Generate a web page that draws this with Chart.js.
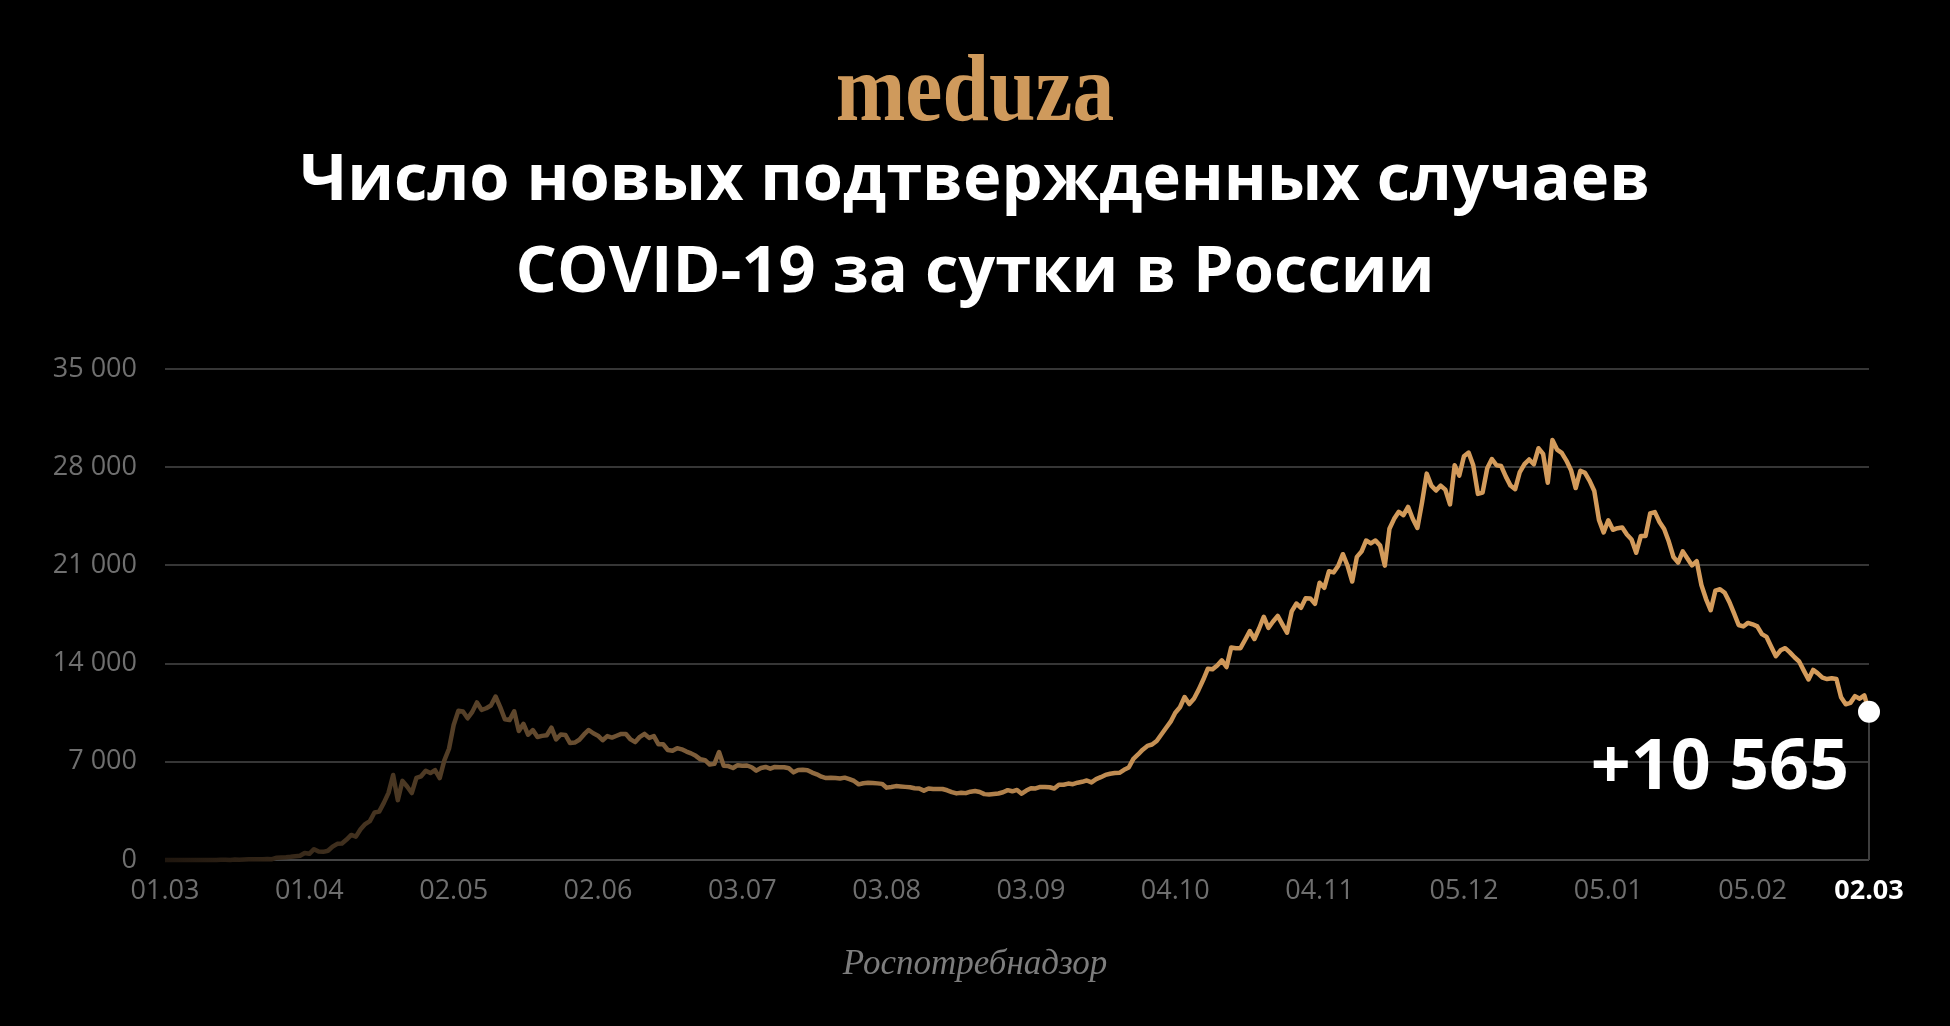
<!DOCTYPE html>
<html lang="ru">
<head>
<meta charset="utf-8">
<title>Число новых подтвержденных случаев COVID-19 за сутки в России</title>
<script src="https://cdn.jsdelivr.net/npm/chart.js@4.4.1/dist/chart.umd.min.js"></script>
<style>
  html, body { margin: 0; padding: 0; background: #000; }
  body { width: 1950px; height: 1026px; position: relative; overflow: hidden; }
  #chart { position: absolute; left: 0; top: 0; }
  .logo { position: absolute; left: 0; top: 40px; width: 1950px; text-align: center;
    font: bold 96px/1 "Liberation Serif", serif; color: #cf9a5c; }
  .logo span { display: inline-block; transform: scaleX(0.87); }
  h1 { position: absolute; left: 0; top: 129px; width: 1950px; margin: 0; text-align: center;
    font: 700 65px/92px "Open Sans", sans-serif; color: #fff; }
  .source { position: absolute; left: 0; top: 945px; width: 1950px; text-align: center;
    font: italic 35px/1 "Liberation Serif", serif; color: #7d7d7d; }
</style>
</head>
<body>
<canvas id="chart" width="1950" height="1026"></canvas>
<div class="logo"><span>meduza</span></div>
<h1>Число новых подтвержденных случаев<br>COVID-19 за сутки в России</h1>
<div class="source">Роспотребнадзор</div>

<script>
// new confirmed cases per day, 01.03.2020 – 02.03.2021
const casesMar = [0, 1, 0, 0, 1, 6, 0, 3, 0, 3, 8, 6, 14, 14, 4, 30, 21, 33, 52, 54, 53, 61, 71, 57, 163, 182, 196, 228, 270, 302, 501];
const casesApr = [440, 771, 601, 582, 658, 954, 1154, 1175, 1459, 1786, 1667, 2186, 2558, 2774, 3388, 3448, 4070, 4785, 6060, 4268,
  5642, 5236, 4774, 5849, 5966, 6361, 6198, 6411, 5841, 7099];
const casesMay = [7933, 9623, 10633, 10581, 10102, 10559, 11231, 10699, 10817, 11012, 11656, 10899, 10028, 9974, 10598, 9200,
  9709, 8926, 9263, 8764, 8849, 8894, 9434, 8599, 8946, 8915, 8338, 8371, 8572, 8952, 9268];
const casesJun = [9035, 8863, 8536, 8831, 8726, 8855, 8984, 8985, 8595, 8404, 8779, 8987, 8706, 8835, 8246, 8248, 7843, 7790,
  7972, 7889, 7728, 7600, 7425, 7176, 7113, 6800, 6852, 7700, 6719, 6693];
const casesJul = [6556, 6760, 6718, 6736, 6611, 6368, 6562, 6632, 6509, 6635, 6611, 6615, 6537, 6248, 6422, 6428, 6406, 6234,
  6109, 5940, 5842, 5862, 5848, 5811, 5871, 5765, 5635, 5395, 5475, 5509, 5482];
const casesAug = [5462, 5427, 5159, 5204, 5267, 5241, 5212, 5189, 5118, 5102, 4945, 5102, 5057, 5065, 5061, 4969, 4839, 4748,
  4790, 4767, 4870, 4921, 4852, 4696, 4676, 4711, 4741, 4829, 4980, 4897, 4995];
const casesSep = [4729, 4952, 5110, 5099, 5205, 5195, 5185, 5099, 5363, 5363, 5449, 5406, 5509, 5572, 5670, 5529, 5762, 5905,
  6065, 6148, 6196, 6215, 6431, 6595, 7212, 7523, 7867, 8135, 8232, 8481];
const casesOct = [8945, 9412, 9859, 10499, 10888, 11615, 11115, 11493, 12126, 12846, 13634, 13592, 13868, 14231, 13754, 15150,
  15099, 15100, 15700, 16319, 15753, 16500, 17340, 16550, 17000, 17400, 16800, 16202, 17717, 18283, 17980];
const casesNov = [18665, 18648, 18257, 19768, 19404, 20582, 20498, 20977, 21798, 20977, 19851, 21608, 21983, 22778, 22572,
  22778, 22410, 20985, 23610, 24318, 24822, 24581, 25173, 24326, 23675, 25487, 27543, 26683, 26338, 26683];
const casesDec = [26402, 25345, 28145, 27403, 28782, 29039, 28137, 26097, 26190, 27927, 28585, 28137, 28080, 27328, 26689,
  26431, 27656, 28214, 28552, 28209, 29350, 28948, 26897, 29935, 29258, 29018, 28471, 27787, 26513, 27747, 27600];
const casesJan = [27029, 26301, 24246, 23351, 24217, 23541, 23652, 23700, 23200, 22850, 21900, 23100, 23100, 24700, 24800,
  24100, 23600, 22700, 21600, 21200, 22000, 21500, 21000, 21300, 19600, 18600, 17800, 19200, 19300, 19050, 18400];
const casesFeb = [17600, 16750, 16650, 16900, 16800, 16650, 16100, 15900, 15200, 14530, 14950, 15100, 14800, 14450, 14150,
  13500, 12870, 13550, 13300, 13000, 12900, 12950, 12900, 11600, 11100, 11200, 11680, 11500];
const casesMar21 = [11730, 10565];

const newCases = [].concat(casesMar, casesApr, casesMay, casesJun, casesJul, casesAug, casesSep,
  casesOct, casesNov, casesDec, casesJan, casesFeb, casesMar21);

const tickDays = [0, 31, 62, 93, 124, 155, 186, 217, 248, 279, 310, 341, 366];
const tickLabels = ['01.03', '01.04', '02.05', '02.06', '03.07', '03.08', '03.09', '04.10', '04.11', '05.12', '05.01', '05.02', '02.03'];
const yMax = 35000;
const yStep = 7000;

const last = newCases.length - 1;
const fmt = v => String(v).replace(/\B(?=(\d{3})+(?!\d))/g, ' ');

function lineGradient(c) {
  const area = c.chart.chartArea;
  if (!area) return '#d39b5b';
  const g = c.chart.ctx.createLinearGradient(area.left, 0, area.right, 0);
  g.addColorStop(0, '#1f160e');
  g.addColorStop(0.14, '#4b3823');
  g.addColorStop(0.31, '#7d5d3a');
  g.addColorStop(0.49, '#b2824c');
  g.addColorStop(0.64, '#d29a5a');
  g.addColorStop(1, '#d59c5c');
  return g;
}

// vertical rule under the last point and its big label
const lastMarker = {
  id: 'lastMarker',
  beforeDatasetsDraw(chart) {
    const { ctx, scales: { x, y } } = chart;
    const px = x.getPixelForValue(last);
    ctx.save();
    ctx.strokeStyle = '#3e3e3e';
    ctx.lineWidth = 2;
    ctx.beginPath();
    ctx.moveTo(px, y.getPixelForValue(newCases[last]));
    ctx.lineTo(px, y.getPixelForValue(0));
    ctx.stroke();
    ctx.restore();
  },
  afterDatasetsDraw(chart) {
    const { ctx, scales: { x, y } } = chart;
    const px = x.getPixelForValue(last);
    const py = y.getPixelForValue(newCases[last]);
    ctx.save();
    ctx.fillStyle = '#fff';
    ctx.font = '700 70px "Open Sans", sans-serif';
    ctx.textAlign = 'right';
    ctx.textBaseline = 'alphabetic';
    ctx.fillText('+' + fmt(newCases[last]), px - 20, py + 77);
    ctx.restore();
  }
};

const tickFont = { family: '"Open Sans", sans-serif', size: 27 };

new Chart(document.getElementById('chart'), {
  type: 'line',
  data: {
    datasets: [{
      data: newCases.map((v, i) => ({ x: i, y: v })),
      borderColor: lineGradient,
      borderWidth: 4.5,
      borderJoinStyle: 'round',
      tension: 0,
      clip: false,
      pointRadius: c => (c.dataIndex === last ? 11 : 0),
      pointBackgroundColor: '#fff',
      pointBorderWidth: 0,
      pointHoverRadius: 0
    }]
  },
  options: {
    responsive: false,
    animation: false,
    events: [],
    layout: { padding: { top: 369, right: 81, bottom: 0, left: 0 } },
    plugins: { legend: { display: false }, tooltip: { enabled: false } },
    scales: {
      x: {
        type: 'linear',
        min: 0,
        max: last,
        grid: { display: false },
        border: { display: false },
        afterBuildTicks: s => { s.ticks = tickDays.map(v => ({ value: v })); },
        afterFit: s => { s.height = 166; },
        ticks: {
          autoSkip: false,
          maxRotation: 0,
          padding: 7,
          font: c => ({ ...tickFont, weight: c.index === tickDays.length - 1 ? 'bold' : 'normal' }),
          color: c => (c.index === tickDays.length - 1 ? '#ffffff' : '#6f6f6f'),
          callback: (v, i) => tickLabels[i]
        }
      },
      y: {
        min: 0,
        max: yMax,
        afterFit: s => { s.width = 165; },
        grid: {
          color: c => (c.tick && c.tick.value === 0 ? '#444444' : '#363636'),
          lineWidth: 2,
          drawTicks: false
        },
        border: { display: false },
        ticks: {
          stepSize: yStep,
          padding: 28,
          font: tickFont,
          color: '#6f6f6f',
          callback: v => fmt(v)
        }
      }
    }
  },
  plugins: [lastMarker]
});
</script>
</body>
</html>
